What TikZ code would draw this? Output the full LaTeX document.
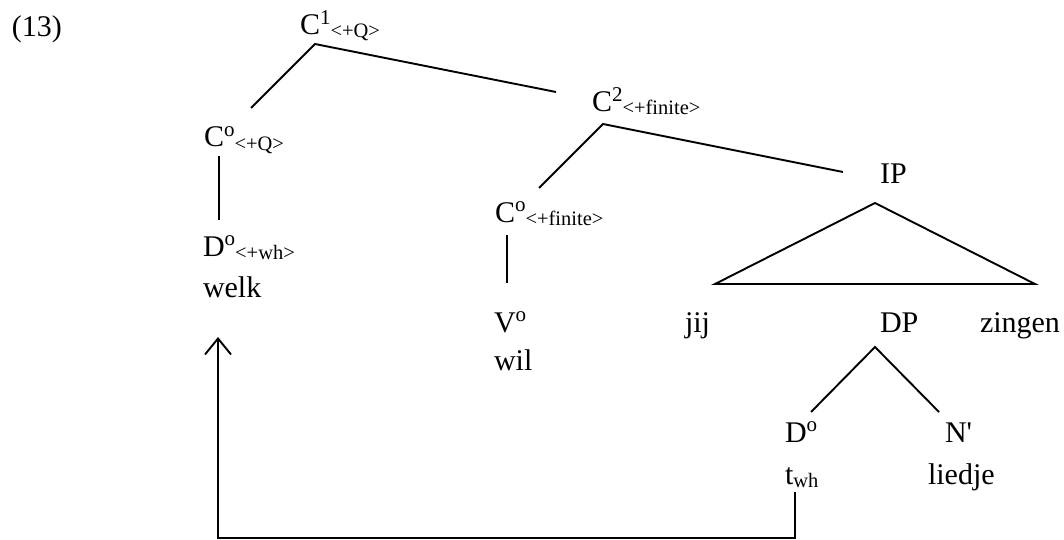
\documentclass[tikz,border=0pt]{standalone}
\usepackage{fontspec}
\setmainfont{Liberation Serif}
\usetikzlibrary{arrows.meta}
\newcommand\upx[1]{\raisebox{10.5pt}{\fontsize{21}{21}\selectfont #1}}
\newcommand\dnx[1]{\raisebox{-3pt}{\fontsize{20.5}{21}\selectfont #1}}
\begin{document}
\begin{tikzpicture}[x=1pt,y=-1pt,
  lbl/.style={anchor=base west,inner sep=0pt,outer sep=0pt,font=\fontsize{30}{30}\selectfont},
  edge/.style={line width=1.9pt}]
\useasboundingbox (0,0) rectangle (1064,540);
% labels
\node[lbl] (ex) at (12,37) {(13)};
\node[lbl] (c1) at (300,35) {C\upx{1}\dnx{<+Q>}};
\node[lbl] (c2) at (592,112) {C\upx{2}\dnx{<+finite>}};
\node[lbl] (c0q) at (204,147) {C\upx{o}\dnx{<+Q>}};
\node[lbl] (d0wh) at (203,256) {D\upx{o}\dnx{<+wh>}};
\node[lbl] (welk) at (203,297) {welk};
\node[lbl] (c0f) at (495,222) {C\upx{o}\dnx{<+finite>}};
\node[lbl] (ip) at (880,183) {IP};
\node[lbl] (v0) at (494,332) {V\upx{o}};
\node[lbl] (wil) at (494,370) {wil};
\node[lbl] (jij) at (685,332) {jij};
\node[lbl] (dp) at (880,332) {DP};
\node[lbl] (zingen) at (980,332) {zingen};
\node[lbl] (d0t) at (785,442) {D\upx{o}};
\node[lbl] (twh) at (785,484) {t\dnx{wh}};
\node[lbl] (np) at (945,442) {N\textquotesingle};
\node[lbl] (liedje) at (928,484) {liedje};
% connector end points
\coordinate (c1a) at (315,44);
\coordinate (c0qt) at (251,108);
\coordinate (c2l) at (556,92);
\coordinate (c2a) at (603,124);
\coordinate (c0ft) at (539,188);
\coordinate (ipl) at (843,172);
\coordinate (c0qb) at (219,156);
\coordinate (d0wht) at (219,220);
\coordinate (c0fb) at (507,235);
\coordinate (v0t) at (507,283);
\coordinate (tria) at (875,203);
\coordinate (tril) at (715,284);
\coordinate (trir) at (1035,284);
\coordinate (dpa) at (875,347);
\coordinate (d0tt) at (811,412);
\coordinate (npt) at (939,412);
\coordinate (twhb) at (795,492);
\coordinate (mvr) at (795,538);
\coordinate (mvl) at (218,538);
\coordinate (welkb) at (218,337);
% connectors
\draw[edge] (c0qt) -- (c1a) -- (c2l);
\draw[edge] (c0ft) -- (c2a) -- (ipl);
\draw[edge] (c0qb) -- (d0wht);
\draw[edge] (c0fb) -- (v0t);
\draw[edge] (tria) -- (tril) -- (trir) -- cycle;
\draw[edge] (d0tt) -- (dpa) -- (npt);
\draw[edge,-{Straight Barb[length=16pt,width=26pt]}] (twhb) -- (mvr) -- (mvl) -- (welkb);
\end{tikzpicture}
\end{document}
